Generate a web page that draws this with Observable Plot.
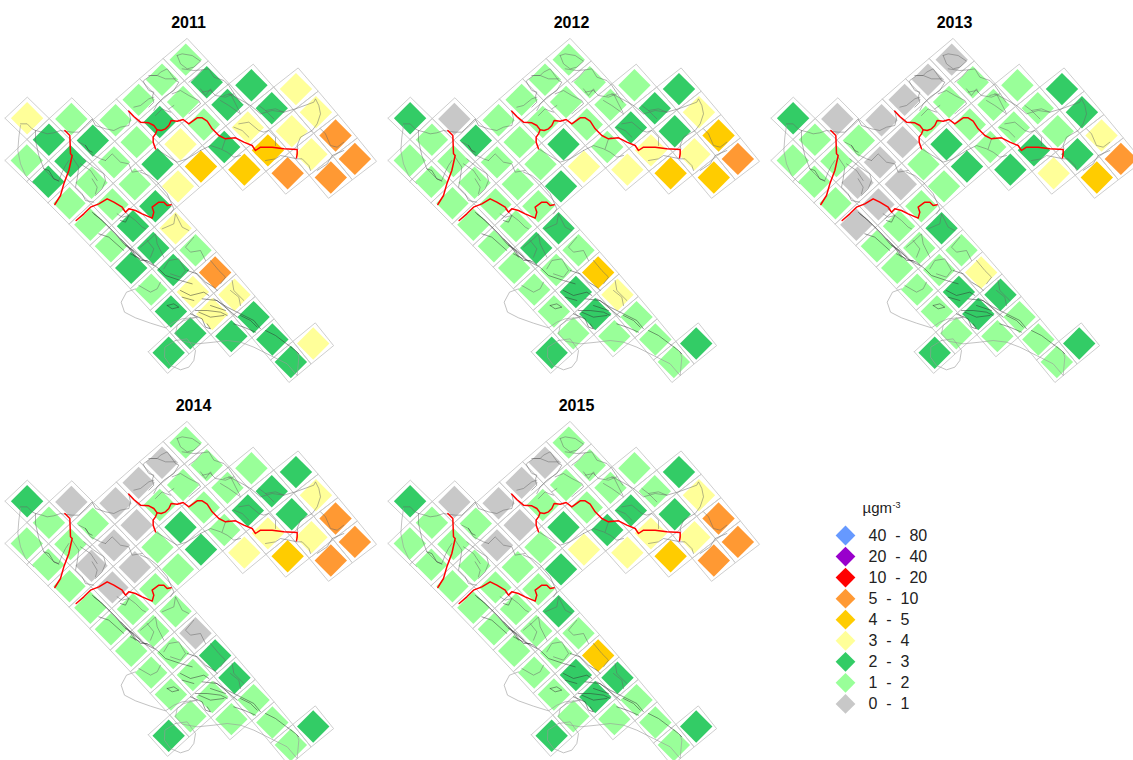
<!DOCTYPE html>
<html>
<head>
<meta charset="utf-8">
<style>
html,body{margin:0;padding:0;background:#fff;overflow:hidden}
svg{display:block}
</style>
<script src="https://cdn.jsdelivr.net/npm/d3@7"></script>
<script src="https://cdn.jsdelivr.net/npm/@observablehq/plot@0.6"></script>
</head>
<body>
<div id="chart"></div>
<script>
// Concentration classes (µg m-3)
const classLabels = ["0\u00a0\u00a0-\u00a0\u00a01","1\u00a0\u00a0-\u00a0\u00a02","2\u00a0\u00a0-\u00a0\u00a03","3\u00a0\u00a0-\u00a0\u00a04","4\u00a0\u00a0-\u00a0\u00a05","5\u00a0\u00a0-\u00a0\u00a010","10\u00a0\u00a0-\u00a0\u00a020","20\u00a0\u00a0-\u00a0\u00a040","40\u00a0\u00a0-\u00a0\u00a080"];
const classColors = ["#C8C8C8","#99FF99","#33CC66","#FFFF99","#FFCC00","#FF9933","#FF0000","#9900CC","#6699FF"];
const years = [2011,2012,2013,2014,2015];

// EMEP 50 km grid cells: [grid y, grid x list]
const cellRows = [
  [49,[82,83,84,85]],
  [48,[81,82,83,84,85]],
  [47,[79,80,81,82,83,84]],
  [46,[79,80,81,82,83]],
  [45,[79,80,81,82]],
  [44,[79,80,81,82,89]],
  [43,[78,79,80,81,82,83,84,85,86,87,88,89]],
  [42,[77,78,79,80,81,82,83,84,85,86,87]],
  [41,[78,79,80,81,82,83,84,85,86]],
  [40,[86]]
];
// class index of each cell, same order as cellRows
const values2011 = [3,3,5,5, 2,2,3,3,5, 1,2,2,3,4,5, 1,1,1,2,4, 1,2,3,4, 1,1,2,3,3, 1,2,1,1,2,3,1,5,3,2,2,2, 3,2,2,1,1,2,2,2,3,3,2, 1,2,1,1,1,2,1,2,2, 2];
const values2012 = [2,3,4,5, 1,2,2,3,4, 1,1,1,2,3,4, 1,1,1,1,3, 1,1,2,3, 1,1,1,2,2, 0,2,1,1,1,2,1,4,3,1,1,1, 2,1,1,1,1,1,2,1,2,2,1, 1,1,1,1,1,1,1,1,1, 2];
const values2013 = [2,2,3,5, 1,1,1,2,4, 0,1,1,1,2,3, 0,1,1,1,2, 0,1,2,2, 0,0,1,1,2, 0,1,0,0,1,2,1,3,2,1,1,1, 2,1,1,0,0,1,1,1,2,2,1, 1,1,1,0,1,1,1,1,1, 2];
const values2014 = [2,3,5,5, 1,2,2,3,5, 1,1,1,2,3,4, 0,1,1,1,3, 0,1,2,2, 0,0,1,1,2, 0,1,0,0,1,1,0,2,2,1,1,1, 2,1,1,0,0,1,1,1,1,1,1, 1,1,1,1,1,1,1,1,1, 2];
const values2015 = [2,3,5,5, 1,1,2,3,5, 1,1,1,2,3,4, 0,1,1,2,3, 0,1,2,3, 0,0,1,2,2, 0,1,0,1,1,2,1,4,2,1,1,1, 2,1,1,1,1,1,1,1,2,2,1, 1,1,1,1,1,1,1,1,1, 2];
const yearValues = [values2011,values2012,values2013,values2014,values2015];

// Traced map lines (map tracing units: 158.7 per degree lon, 217.2 per degree lat)
const zoneLines = [
  [[385,242],[400,258],[420,275],[445,277],[460,285],[470,298],[482,300],[495,295],[505,285],[512,270],[530,272],[548,267],[565,280],[590,262],[605,262],[620,272],[635,295],[655,315],[675,325],[705,322],[730,335],[755,345],[765,360],[780,350],[815,350],[850,355],[890,357],[890,370],[888,382]],
  [[470,298],[465,310],[458,320],[458,335],[465,355]],
  [[193,300],[208,315],[210,370],[215,375],[205,420],[190,460],[180,495],[163,522]],
  [[227,570],[250,550],[270,530],[295,520],[320,505],[340,515],[365,530],[375,545],[385,535],[405,540],[425,550],[455,563],[460,545],[455,530],[475,515],[490,515],[500,525],[512,523]]
];
const seaLines = [
  [[60,285],[55,320],[52,360],[60,400],[75,435],[100,460]],
  [[405,775],[378,785],[362,815],[372,845],[405,862],[450,878],[495,892],[520,875],[545,865],[590,860]],
  [[525,930],[560,925],[585,960],[580,990],[565,1010],[540,1018],[510,1005],[492,980],[493,950],[525,930]],
  [[590,860],[550,870],[530,885],[525,910],[545,932],[590,940],[640,935],[680,930],[720,935],[760,950],[810,975],[860,1000],[890,1035],[895,980],[890,965]]
];
const countyLines = [
  [[60,280],[80,280],[95,295],[105,300],[105,330],[115,375],[130,415],[160,445],[175,450],[185,425],[195,405],[205,390]],
  [[105,300],[125,305],[140,310],[160,307],[180,300],[192,302],[215,305],[235,305],[255,285],[275,265],[285,285],[300,290],[315,295],[340,300],[360,290],[385,285],[390,265],[385,242]],
  [[530,75],[545,70],[575,75],[600,92],[580,110],[560,115],[540,100],[530,75]],
  [[428,152],[435,165],[445,180],[460,185],[455,200],[460,215],[445,230]],
  [[430,150],[450,135],[470,135],[480,125],[500,115],[525,150],[535,155],[520,180],[490,200],[470,220],[460,240]],
  [[445,135],[470,135],[495,145],[525,145]],
  [[565,155],[585,140],[605,118],[625,115],[640,140],[670,150],[685,165],[705,195],[718,215]],
  [[545,115],[580,120],[605,118]],
  [[515,190],[540,180],[565,195],[595,210],[600,220],[570,245],[565,250]],
  [[505,235],[520,225]],
  [[600,175],[615,195],[630,175],[635,185]],
  [[670,195],[690,190],[705,220],[718,245]],
  [[400,230],[420,225],[445,205],[460,200]],
  [[465,255],[485,235],[495,240],[510,245]],
  [[685,190],[715,205],[750,225],[780,250],[815,240],[850,245],[885,235],[940,215],[945,205],[955,225],[960,250],[950,280],[935,300],[900,320],[890,345],[892,355]],
  [[775,225],[795,240],[810,255],[820,265]],
  [[795,240],[825,235],[850,245]],
  [[715,280],[745,275],[775,300],[790,305],[805,300],[825,320],[825,345]],
  [[700,290],[725,300],[745,320]],
  [[600,360],[630,345],[660,355],[680,365],[700,380],[720,375]],
  [[665,355],[675,325],[685,320]],
  [[795,390],[825,385],[840,375],[865,380],[890,385],[905,385],[925,405],[930,420]],
  [[960,295],[975,310],[990,345],[1010,350],[1030,335]],
  [[950,420],[980,400],[995,375],[1030,360]],
  [[605,185],[630,180],[645,195],[675,200],[700,190]],
  [[660,210],[685,225],[720,250]],
  [[465,355],[490,370],[530,395],[560,385],[600,360]],
  [[420,425],[445,435],[470,455],[500,490],[520,535],[510,550]],
  [[315,390],[335,370],[360,395],[385,400],[395,425],[425,420]],
  [[215,380],[235,410],[230,445],[225,470],[245,490],[255,510],[280,515]],
  [[250,385],[280,410],[310,430],[315,450],[305,475],[285,495]],
  [[275,445],[290,470],[285,490]],
  [[240,400],[270,420],[290,450]],
  [[235,335],[255,345],[270,370],[300,385],[315,390]],
  [[350,550],[365,560],[385,555],[405,570],[425,590],[435,595]],
  [[355,565],[370,550]],
  [[485,595],[520,580],[525,550],[545,590],[565,600]],
  [[420,650],[450,625],[465,610],[470,640],[490,680]],
  [[580,620],[555,650],[570,665],[600,660],[615,690]],
  [[630,690],[655,720],[675,740],[660,760]],
  [[695,750],[700,780],[730,810]],
  [[690,780],[715,800],[720,825]],
  [[415,765],[450,785],[470,775],[480,755]],
  [[490,715],[505,690],[535,685],[555,720],[540,740],[510,730]],
  [[440,630],[460,655],[450,680]]
];
const coastLines = [
  [[130,415],[145,420],[160,445],[175,452]],
  [[275,545],[310,575],[345,610],[370,640],[400,660],[430,690],[460,705]],
  [[280,550],[300,565],[330,595],[360,625],[390,655],[420,680]],
  [[295,610],[325,620],[370,660]],
  [[375,645],[395,660],[405,675],[420,690],[440,690]],
  [[360,625],[380,645],[405,680]],
  [[390,670],[420,685],[450,695],[475,715],[495,735],[540,750],[575,760]],
  [[560,720],[590,730],[615,755],[640,770],[650,780]],
  [[500,825],[520,820],[535,830],[515,835],[500,825]],
  [[540,780],[570,795],[610,785],[625,795]],
  [[545,800],[580,810]],
  [[585,840],[620,840],[660,845],[680,855]],
  [[630,825],[675,840]],
  [[595,845],[630,860],[670,855]],
  [[605,805],[650,810],[710,860]],
  [[640,805],[680,830],[720,850],[760,870],[780,895]],
  [[720,855],[750,870],[770,890]],
  [[700,880],[730,890],[765,905]],
  [[795,900],[825,915],[845,930],[885,960],[895,970]],
  [[570,850],[605,865],[615,890],[630,895],[620,880]],
  [[255,345],[265,360],[275,365]],
  [[365,535],[385,555],[375,575],[360,570]]
];

// Grid geometry: polar stereographic EMEP grid to lon/lat
const deg = 180/Math.PI;
function gridLonLat(x,y){
  const dx = x-8, dy = 110-y, r = Math.hypot(dx,dy);
  return [-32+deg*Math.atan2(dx,dy), 90-2*deg*Math.atan(r/237.73)];
}
const traceLon = t => 12.915 + t/158.7;
const traceLat = t => 47.285 - (t/3+30)/72.4;
const pxLon = p => 12.915 + p/52.9;
const pxLat = p => 47.285 - p/72.4;

const panels = years.map((year,k)=>({year,k,col:k%3,row:Math.floor(k/3)}));
const cells = cellRows.flatMap(([y,xs])=>xs.map(x=>({x,y})));

const cellData = panels.flatMap(p=>cells.map((c,n)=>{
  const [lon,lat] = gridLonLat(c.x,c.y);
  return {lon,lat,col:p.col,row:p.row,cls:classLabels[yearValues[p.k][n]]};
}));
const cellOutlines = panels.flatMap(p=>cells.flatMap((c,n)=>
  [[-.5,-.5],[.5,-.5],[.5,.5],[-.5,.5],[-.5,-.5]].map(([a,b])=>{
    const [lon,lat] = gridLonLat(c.x+a,c.y+b);
    return {lon,lat,col:p.col,row:p.row,id:p.k+"-"+n};
  })));
const linePoints = lines => panels.flatMap(p=>lines.flatMap((l,n)=>l.map(([a,b])=>({
  lon:traceLon(a),lat:traceLat(b),col:p.col,row:p.row,id:p.k+"-"+n}))));

const legendRows = classLabels.map((label,i)=>({label,i,col:2,row:1})).reverse().map((d,i)=>({...d,
  lonDot:pxLon(79),lonText:pxLon(102),lat:pxLat(152+21.05*i)}));

const lineOpts = {x:"lon",y:"lat",z:"id",fx:"col",fy:"row",curve:"linear"};

const chart = Plot.plot({
  width:1133,height:760,
  marginTop:0,marginLeft:0,marginRight:-16,marginBottom:-6,
  style:{background:"#fff",fontFamily:"'Liberation Sans',Arial,sans-serif"},
  x:{axis:null,domain:[pxLon(0),pxLon(383)]},
  y:{axis:null,domain:[pxLat(383),pxLat(0)]},
  fx:{axis:null,domain:[0,1,2],padding:0},
  fy:{axis:null,domain:[0,1],padding:0},
  color:{type:"ordinal",domain:classLabels,range:classColors},
  marks:[
    Plot.line(cellOutlines,{...lineOpts,stroke:"#C8C8C8",strokeWidth:0.9}),
    Plot.dot(cellData,{x:"lon",y:"lat",fx:"col",fy:"row",fill:"cls",symbol:"diamond2",r:14.6}),
    Plot.line(linePoints(seaLines),{...lineOpts,stroke:"#999",strokeWidth:0.6}),
    Plot.line(linePoints(countyLines),{...lineOpts,stroke:"#666",strokeWidth:0.5}),
    Plot.line(linePoints(coastLines),{...lineOpts,stroke:"#333",strokeWidth:0.5}),
    Plot.line(linePoints(zoneLines),{...lineOpts,stroke:"#FF0000",strokeWidth:1.5}),
    Plot.text(panels,{x:d=>pxLon(d.row?193:188),y:()=>pxLat(22),fx:"col",fy:"row",text:d=>String(d.year),
      fontSize:16,fontWeight:"bold",fill:"#000"}),
    Plot.dot(legendRows,{x:"lonDot",y:"lat",fx:"col",fy:"row",fill:"label",symbol:"diamond2",r:8.9}),
    Plot.text(legendRows,{x:"lonText",y:"lat",fx:"col",fy:"row",text:"label",textAnchor:"start",fontSize:16,fill:"#222"}),
    Plot.text([{col:2,row:1}],{x:()=>pxLon(96),y:()=>pxLat(125),fx:"col",fy:"row",text:()=>"\u00b5gm",textAnchor:"start",fontSize:15,fill:"#222"}),
    Plot.text([{col:2,row:1}],{x:()=>pxLon(126),y:()=>pxLat(122),fx:"col",fy:"row",text:()=>"-3",textAnchor:"start",fontSize:9,fill:"#222"})
  ]
});
document.getElementById("chart").appendChild(chart);
</script>
</body>
</html>
